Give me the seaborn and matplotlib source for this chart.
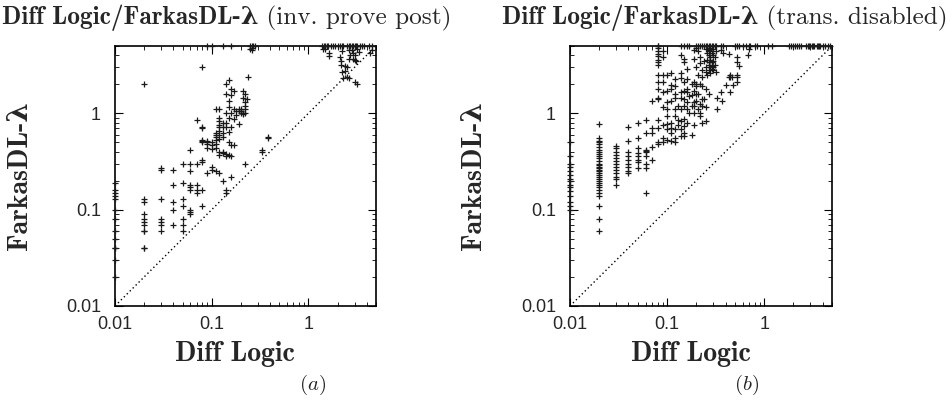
import numpy as np
import pandas as pd
import matplotlib
matplotlib.use("Agg")
import matplotlib.pyplot as plt
import seaborn as sns
from matplotlib.ticker import LogLocator, NullFormatter

# run times (s), x = Diff Logic, y = FarkasDL-lambda
# timeouts are drawn on the upper edge of the plot
TIMEOUT = 5

# (a) inv. prove post : one entry per Diff Logic time, list of FarkasDL times
inv_diff = [0.01, 0.02, 0.03, 0.04, 0.05, 0.06, 0.07, 0.08, 0.09, 0.1,
            0.11, 0.12, 0.13, 0.14, 0.15, 0.16, 0.17, 0.18, 0.19, 0.2,
            0.21, 0.22, 0.23, 0.24, 0.25, 0.26, 0.33, 0.38]
inv_farkas = [
    [0.19, 0.16, 0.15, 0.14, 0.13, 0.1, 0.08, 0.06, 0.05, 0.04, 0.04, 0.03, 0.02],
    [2.0, 0.13, 0.12, 0.09, 0.08, 0.075, 0.07, 0.06, 0.06, 0.04, 0.04],
    [0.27, 0.26, 0.13, 0.08, 0.075, 0.07, 0.06],
    [0.26, 0.18, 0.12, 0.1, 0.07],
    [0.3, 0.19, 0.13, 0.11, 0.08, 0.07, 0.06],
    [0.42, 0.3, 0.25, 0.18, 0.17, 0.16, 0.1, 0.095, 0.09],
    [0.85, 0.3, 0.18, 0.16, 0.15],
    [3.0, 0.72, 0.7, 0.53, 0.52, 0.5, 0.33, 0.31, 0.16, 0.11],
    [0.52, 0.5, 0.48, 0.44, 0.24],
    [0.5, 0.47, 0.43, 0.28, 0.26],
    [1.1, 0.63, 0.6, 0.57, 0.53, 0.48, 0.44, 0.25],
    [1.1, 0.9, 0.84, 0.76, 0.72, 0.65, 0.6, 0.54, 0.4, 0.37, 0.24],
    [0.79, 0.72, 0.62, 0.57, 0.4, 0.39, 0.2],
    [2.0, 1.6, 1.0, 0.8, 0.72, 0.38, 0.36, 0.16, 0.15],
    [2.2, 1.35, 1.15, 0.9, 0.64, 0.5, 0.37],
    [1.8, 1.55, 1.0, 0.72, 0.47, 0.36, 0.22],
    [1.7, 1.1, 0.88, 0.47],
    [1.05, 0.95],
    [1.1, 1.05, 0.78],
    [1.1, 1.05, 1.0],
    [1.7, 1.45, 1.0, 0.98],
    [1.6, 1.3, 1.2, 1.1, 1.0, 0.3],
    [1.4],
    [2.4],
    [4.6],
    [4.8, 4.5],
    [0.42, 0.4],
    [0.57, 0.56],
]
inv_slow_diff = [1.42, 1.5, 1.63, 1.63, 2.1, 2.15, 2.15, 2.2, 2.4, 2.3, 2.5, 2.6,
                 2.6, 2.6, 2.7, 2.8, 2.9, 3.0, 3.05, 3.15, 3.1, 2.4, 2.5, 4.3,
                 4.6, 2.2, 3.2, 3.3, 2.9, 3.0]
inv_slow_farkas = [4.7, 4.6, 4.2, 3.9, 3.8, 3.5, 3.2, 2.7, 2.75, 2.3, 2.4, 2.3,
                   4.5, 3.7, 4.0, 4.5, 4.2, 4.0, 2.1, 2.0, 3.5, 3.1, 3.0, 4.2,
                   4.5, 4.4, 4.6, 4.3, 3.7, 3.6]
inv_timeout_diff = [0.09, 0.1, 0.13, 0.16, 0.25, 0.26, 0.27, 0.28, 1.37, 1.45,
                    1.5, 1.55, 1.6, 1.7, 1.8, 1.9, 2.0, 2.1, 2.2, 2.3, 2.5, 2.6,
                    2.7, 2.8, 2.9, 3.0, 3.1, 3.2, 3.4, 3.6, 3.8, 4.2, 4.6]

# (b) trans. disabled
trans_diff = [0.01, 0.02, 0.03, 0.04, 0.05, 0.06, 0.07, 0.08, 0.09, 0.1,
              0.11, 0.12, 0.13, 0.14, 0.15, 0.16, 0.17, 0.18, 0.19, 0.2,
              0.21, 0.22, 0.23, 0.24, 0.25, 0.26, 0.27, 0.28, 0.29, 0.3,
              0.31, 0.32, 0.33, 0.36, 0.37, 0.38, 0.4, 0.43, 0.45, 0.47,
              0.48, 0.52, 0.53, 0.55, 0.68, 0.7]
trans_farkas = [
    [0.5, 0.36, 0.3, 0.28, 0.25, 0.23, 0.21, 0.2, 0.18, 0.17, 0.155, 0.14, 0.12, 0.11, 0.1],
    [0.78, 0.55, 0.52, 0.5, 0.48, 0.45, 0.42, 0.4, 0.38, 0.36, 0.34, 0.32, 0.3, 0.29,
     0.28, 0.27, 0.26, 0.25, 0.24, 0.23, 0.22, 0.21, 0.2, 0.19, 0.18, 0.17, 0.16,
     0.15, 0.14, 0.11, 0.08, 0.06],
    [0.46, 0.44, 0.4, 0.37, 0.34, 0.32, 0.3, 0.28, 0.26, 0.24, 0.22, 0.21, 0.18],
    [0.72, 0.52, 0.4, 0.36, 0.33, 0.3, 0.28, 0.25, 0.24],
    [0.8, 0.56, 0.44, 0.39, 0.36, 0.33, 0.31, 0.27],
    [0.85, 0.63, 0.42, 0.41, 0.4, 0.36, 0.3, 0.27, 0.15],
    [1.35, 0.7, 0.63, 0.45, 0.33],
    [4.8, 4.4, 4.1, 3.9, 3.6, 3.4, 3.2, 2.5, 2.1, 1.8, 1.45, 1.4, 0.85, 0.7, 0.5, 0.48],
    [4.4, 3.8, 2.5, 2.1, 1.65, 1.15, 0.75, 0.55, 0.5],
    [2.5, 1.7, 1.3, 1.1, 0.94, 0.77, 0.68, 0.53],
    [2.6, 1.95, 1.8, 1.35, 0.8, 0.7, 0.62, 0.52],
    [2.25, 1.9, 1.6, 1.45, 1.1, 0.94, 0.68, 0.55, 0.5],
    [1.2, 0.85, 0.75],
    [4.0, 2.6, 2.3, 1.65, 1.45, 1.1, 0.83, 0.68, 0.58],
    [3.7, 3.4, 2.1, 1.7, 1.4, 1.2, 0.87, 0.74, 0.63, 0.58],
    [2.9, 2.25, 1.8, 1.65, 1.3, 1.1, 0.8],
    [1.5, 1.0],
    [2.0, 1.55, 1.2, 0.6],
    [4.5, 3.7, 2.1, 1.7, 1.3, 1.2, 1.0, 0.75],
    [4.8, 3.0, 2.0, 1.9, 1.6, 1.35],
    [4.4, 2.5, 1.6, 1.1],
    [3.8, 3.3, 2.0, 1.25, 1.0, 0.94],
    [2.8, 2.4, 1.9, 1.4, 1.2, 0.8],
    [3.5, 1.4],
    [4.6, 3.0, 2.7, 1.8, 1.15, 0.83],
    [4.2, 3.6, 2.5],
    [4.8, 4.5, 4.0, 3.4, 3.2, 2.8, 1.6],
    [4.4, 3.8, 3.6, 3.0, 2.6],
    [4.2, 3.4, 3.1, 2.9],
    [4.6, 4.0, 3.5, 3.0, 2.8],
    [3.8, 3.2],
    [4.4, 2.7],
    [1.45, 1.1],
    [4.5, 1.65],
    [1.35],
    [4.2],
    [1.95],
    [4.1, 2.4],
    [2.5, 2.4, 1.65],
    [2.4],
    [1.95],
    [3.8, 2.5, 2.4],
    [3.4, 2.1],
    [3.1],
    [4.0],
    [4.6],
]
trans_timeout_diff = [0.08, 0.08, 0.14, 0.15, 0.16, 0.17, 0.2, 0.21, 0.22, 0.23,
                      0.24, 0.25, 0.26, 0.27, 0.28, 0.29, 0.3, 0.31, 0.32, 0.36,
                      0.38, 0.5, 0.52, 0.55, 0.6, 0.65, 0.7, 0.72, 0.8, 0.85,
                      1.1, 1.2, 1.8, 1.9, 2.0, 2.1, 2.2, 2.3, 2.4, 2.7, 2.8,
                      2.9, 3.0, 3.1, 3.2, 3.3, 3.5, 3.6, 3.7, 3.8, 4.0, 4.2,
                      4.5, 4.8]

titles = ["(inv. prove post)", "(trans. disabled)"]
captions = ["$(a)$", "$(b)$"]


def build_frame(cols, vals, extra_x, extra_y, timeout_x):
    rows = [(x, y) for x, ys in zip(cols, vals) for y in ys]
    rows += list(zip(extra_x, extra_y))
    rows += [(x, TIMEOUT) for x in timeout_x]
    return pd.DataFrame(rows, columns=["diff", "farkas"])


df_inv = build_frame(inv_diff, inv_farkas, inv_slow_diff, inv_slow_farkas, inv_timeout_diff)
df_trans = build_frame(trans_diff, trans_farkas, [], [], trans_timeout_diff)

sns.set_style("ticks")
plt.rcParams["mathtext.fontset"] = "cm"
plt.rcParams["font.family"] = ["Liberation Sans", "DejaVu Sans"]

fig = plt.figure(figsize=(9.53, 4.05), dpi=100)
W, H = 953, 405
axes = [fig.add_axes([115 / W, 99 / H, 261 / W, 260 / H]),
        fig.add_axes([570 / W, 99 / H, 262 / W, 260 / H])]

bold_serif = ["cmb10", "DejaVu Serif"]
title_x = [2, 502]
caption_x = [313, 747]

for i, (ax, df) in enumerate(zip(axes, [df_inv, df_trans])):
    sns.scatterplot(data=df, x="diff", y="farkas", marker="+", color="#1a1a1a",
                    s=22, linewidth=0.9, legend=False, clip_on=False, zorder=3, ax=ax)
    ax.plot([0.01, TIMEOUT], [0.01, TIMEOUT], color="black", lw=1.0, ls=(0, (1, 2)))
    ax.set_xscale("log")
    ax.set_yscale("log")
    ax.set_xlim(0.01, TIMEOUT)
    ax.set_ylim(0.01, TIMEOUT)
    for axis in (ax.xaxis, ax.yaxis):
        axis.set_major_locator(LogLocator(base=10, numticks=10))
        axis.set_minor_locator(LogLocator(base=10, subs=np.arange(2, 10), numticks=20))
        axis.set_minor_formatter(NullFormatter())
    ax.set_xticks([0.01, 0.1, 1])
    ax.set_xticklabels(["0.01", "0.1", "1"])
    ax.set_yticks([0.01, 0.1, 1])
    ax.set_yticklabels(["0.01", "0.1", "1"])
    ax.tick_params(which="both", direction="in", top=True, right=True, color="black")
    ax.tick_params(which="major", length=6, width=0.8, labelsize=13)
    ax.tick_params(which="minor", length=3, width=0.6)
    ax.tick_params(axis="x", which="major", pad=7)
    ax.tick_params(axis="y", which="major", pad=10)
    for sp in ax.spines.values():
        sp.set_linewidth(1.2)
        sp.set_color("black")

    ax.set_xlabel("Diff Logic", family=bold_serif, weight="bold", fontsize=20)
    ax.set_ylabel("FarkasDL-λ", family=bold_serif, weight="bold", fontsize=20)
    ax.xaxis.set_label_coords(0.46, -0.135)
    ax.yaxis.set_label_coords(-0.315, 0.5)

    fig.text(caption_x[i] / W, 20 / H, captions[i], ha="center", va="center", fontsize=15)

    t_bold = fig.text(title_x[i] / W, 381 / H, "Diff Logic/FarkasDL-λ",
                      family=bold_serif, weight="bold", fontsize=18.2, va="baseline")
    fig.canvas.draw()
    bb = t_bold.get_window_extent(fig.canvas.get_renderer())
    fig.text(bb.x1 / fig.bbox.width, 381 / H, " " + titles[i],
             family=["cmr10", "DejaVu Serif"], fontsize=18.2, va="baseline")

fig.savefig("out.png", dpi=100)
